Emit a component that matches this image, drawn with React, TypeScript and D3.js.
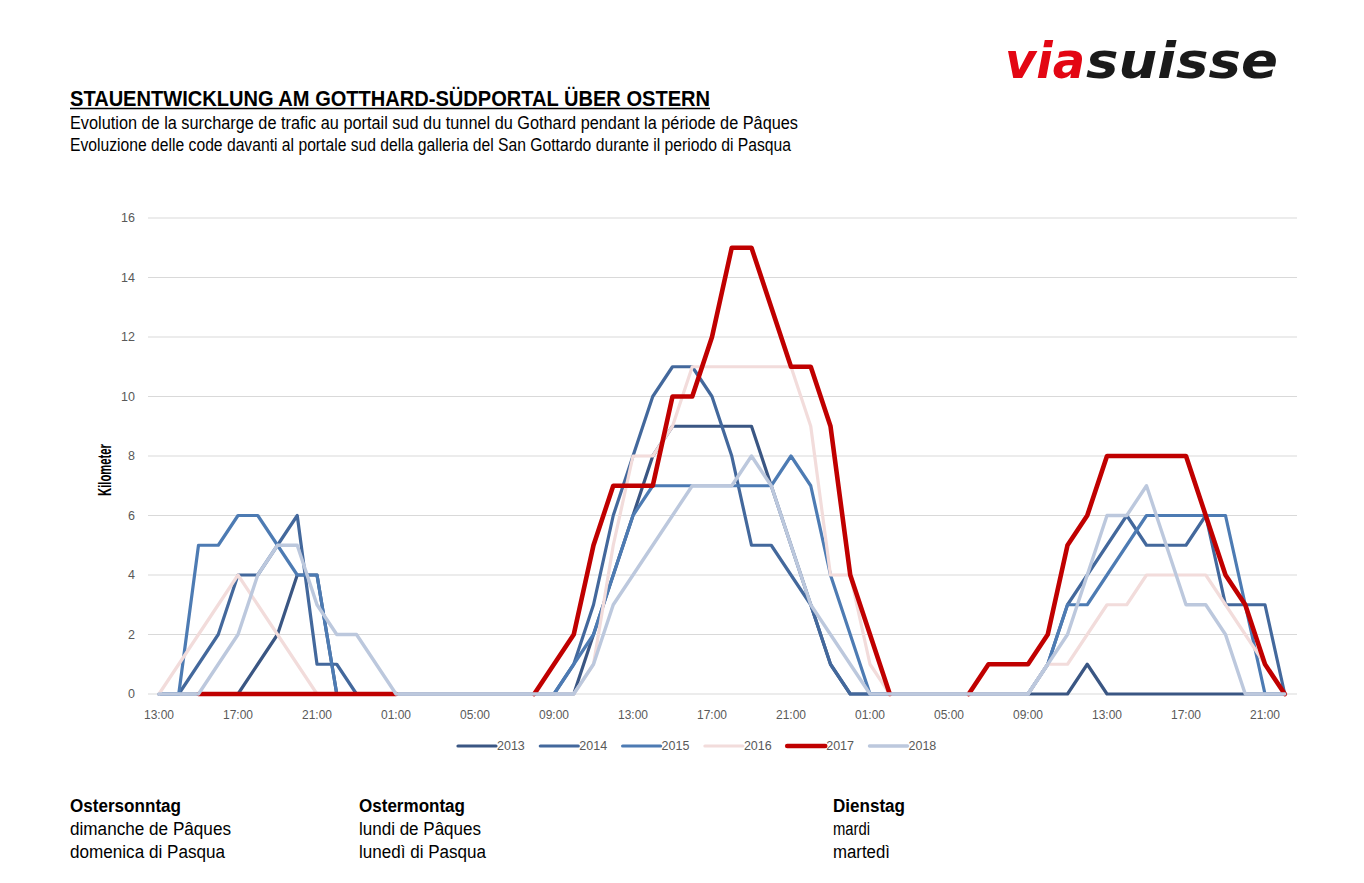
import React from "react";
import * as d3 from "d3";

const hours = [
  "13:00","14:00","15:00","16:00","17:00","18:00","19:00","20:00","21:00","22:00","23:00","00:00",
  "01:00","02:00","03:00","04:00","05:00","06:00","07:00","08:00","09:00","10:00","11:00","12:00",
  "13:00","14:00","15:00","16:00","17:00","18:00","19:00","20:00","21:00","22:00","23:00","00:00",
  "01:00","02:00","03:00","04:00","05:00","06:00","07:00","08:00","09:00","10:00","11:00","12:00",
  "13:00","14:00","15:00","16:00","17:00","18:00","19:00","20:00","21:00","22:00",
];
const tickEvery = 4;
const yTicks = [0, 2, 4, 6, 8, 10, 12, 14, 16];

const years = ["2013", "2014", "2015", "2016", "2017", "2018"];

const s2013 = [0,0,0,0,0,1,2,4,4,0, 0,0,0,0,0,0,0,0,0,0, 0,0,2,4,6,8,9,9,9,9, 9,7,5,3,1,0,0,0,0,0, 0,0,0,0,0,0,0,1,0,0, 0,0,0,0,0,0,0,0];
const s2014 = [0,0,1,2,4,4,5,6,1,1, 0,0,0,0,0,0,0,0,0,0, 0,1,3,6,8,10,11,11,10,8, 5,5,4,3,1,0,0,0,0,0, 0,0,0,0,0,1,3,4,5,6, 5,5,5,6,3,3,3,0];
const s2015 = [0,0,5,5,6,6,5,4,4,0, 0,0,0,0,0,0,0,0,0,0, 0,1,2,4,6,7,7,7,7,7, 7,7,8,7,4,2,0,0,0,0, 0,0,0,0,0,1,3,3,4,5, 6,6,6,6,6,3,0,0];
const s2016 = [0,1,2,3,4,3,2,1,0,0, 0,0,0,0,0,0,0,0,0,0, 0,0,1,5,8,8,9,11,11,11, 11,11,11,9,4,4,1,0,0,0, 0,0,0,0,0,1,1,2,3,3, 4,4,4,4,3,2,1,0];
const s2017 = [null,null,0,0,0,0,0,0,0,0, 0,0,0,null,null,null,null,null,null,0, 1,2,5,7,7,7,10,10,12,15, 15,13,11,11,9,4,2,0,null,null, null,0,1,1,1,2,5,6,8,8, 8,8,8,6,4,3,1,0];
const s2018 = [0,0,0,1,2,4,5,5,3,2, 2,1,0,0,0,0,0,0,0,0, 0,0,1,3,4,5,6,7,7,7, 8,7,5,3,2,1,0,0,0,0, 0,0,0,0,0,1,2,4,6,6, 7,5,3,3,2,0,0,0];

const seriesValues: (number | null)[][] = [s2013, s2014, s2015, s2016, s2017, s2018];
const seriesColors = ["#3a5683", "#43689c", "#4d7bb3", "#f2dcdb", "#c00000", "#bcc8dd"];
const seriesWidths = [3.2, 3.2, 3.2, 3.2, 4.6, 3.4];

const titleText = "STAUENTWICKLUNG AM GOTTHARD-SÜDPORTAL ÜBER OSTERN";
const subtitle1 = "Evolution de la surcharge de trafic au portail sud du tunnel du Gothard pendant la période de Pâques";
const subtitle2 = "Evoluzione delle code davanti al portale sud della galleria del San Gottardo durante il periodo di Pasqua";
const dayLabels = [
  { lines: ["Ostersonntag", "dimanche de Pâques", "domenica di Pasqua"], x: 70, w: [111, 161, 155] },
  { lines: ["Ostermontag", "lundi de Pâques", "lunedì di Pasqua"], x: 359, w: [106, 122, 127] },
  { lines: ["Dienstag", "mardi", "martedì"], x: 833, w: [72, 37, 57] },
];

const FONT = "'Liberation Sans Narrow', 'Arial Narrow', 'Liberation Sans', Arial, sans-serif";
const FONT_AX = "'Liberation Sans', Arial, sans-serif";

export default function App() {
  const W = 1364, H = 883;
  const x = d3.scaleLinear().domain([0, hours.length - 1]).range([159, 1284.75]);
  const y = d3.scaleLinear().domain([0, 16]).range([694, 218]);
  const line = d3
    .line<number | null>()
    .defined((d) => d != null)
    .x((_d, i) => x(i))
    .y((d) => y(d as number));

  const tickIdx = hours.map((_h, i) => i).filter((i) => i % tickEvery === 0);
  const legendX0 = 458;
  const legendStep = 82.3;

  return (
    <div style={{ position: "absolute", left: 0, top: 0 }}>
      <svg width={W} height={H} style={{ display: "block", background: "#fff" }}>
        {/* logo */}
        <text x={1005} y={78} fontFamily="'DejaVu Sans', sans-serif" fontWeight={900} fontStyle="italic"
          fontSize={50} fill="#e30613" textLength={80} lengthAdjust="spacingAndGlyphs">via</text>
        <text x={1086} y={78} fontFamily="'DejaVu Sans', sans-serif" fontWeight={900} fontStyle="italic"
          fontSize={50} fill="#1a1a1a" textLength={192} lengthAdjust="spacingAndGlyphs">suisse</text>

        {/* titles */}
        <text x={70} y={106} fontFamily={FONT} fontWeight={700} fontSize={22} fill="#000"
          textLength={640} lengthAdjust="spacingAndGlyphs">{titleText}</text>
        <line x1={70} x2={710} y1={108.5} y2={108.5} stroke="#000" strokeWidth={1.5} />
        <text x={70} y={129} fontFamily={FONT} fontSize={17.5} fill="#000"
          textLength={728} lengthAdjust="spacingAndGlyphs">{subtitle1}</text>
        <text x={70} y={151} fontFamily={FONT} fontSize={17.5} fill="#000"
          textLength={721} lengthAdjust="spacingAndGlyphs">{subtitle2}</text>

        {/* grid */}
        {yTicks.map((t) => (
          <g key={t}>
            <line x1={148} x2={1297} y1={y(t)} y2={y(t)} stroke="#d9d9d9" strokeWidth={1} />
            <text x={135} y={y(t)} dy="0.35em" textAnchor="end" fontFamily={FONT_AX} fontSize={12.5} fill="#595959">{t}</text>
          </g>
        ))}

        {/* x labels */}
        {tickIdx.map((i) => (
          <text key={i} x={x(i)} y={719} textAnchor="middle" fontFamily={FONT_AX} fontSize={12} fill="#595959">{hours[i]}</text>
        ))}

        {/* y title */}
        <text transform={`translate(111,470) rotate(-90)`} textAnchor="middle" fontFamily={FONT} fontWeight={700}
          fontSize={19} fill="#000" textLength={52} lengthAdjust="spacingAndGlyphs">Kilometer</text>

        {/* series */}
        {seriesValues.map((vals, k) => (
          <path key={years[k]} d={line(vals) || ""} fill="none" stroke={seriesColors[k]}
            strokeWidth={seriesWidths[k]} strokeLinejoin="round" strokeLinecap="round" />
        ))}

        {/* legend */}
        {years.map((yr, k) => {
          const lx = legendX0 + k * legendStep;
          return (
            <g key={yr}>
              <line x1={lx} x2={lx + 38} y1={746} y2={746} stroke={seriesColors[k]} strokeWidth={seriesWidths[k]}
                strokeLinecap="round" />
              <text x={lx + 39} y={746} dy="0.35em" fontFamily={FONT_AX} fontSize={12.5} fill="#595959">{yr}</text>
            </g>
          );
        })}

        {/* day labels */}
        {dayLabels.map((d) => (
          <g key={d.lines[0]}>
            {d.lines.map((t, j) => (
              <text key={t} x={d.x} y={812 + j * 23} fontFamily={FONT} fontWeight={j === 0 ? 700 : 400}
                fontSize={18} fill="#000" textLength={d.w[j]} lengthAdjust="spacingAndGlyphs">{t}</text>
            ))}
          </g>
        ))}
      </svg>
    </div>
  );
}
